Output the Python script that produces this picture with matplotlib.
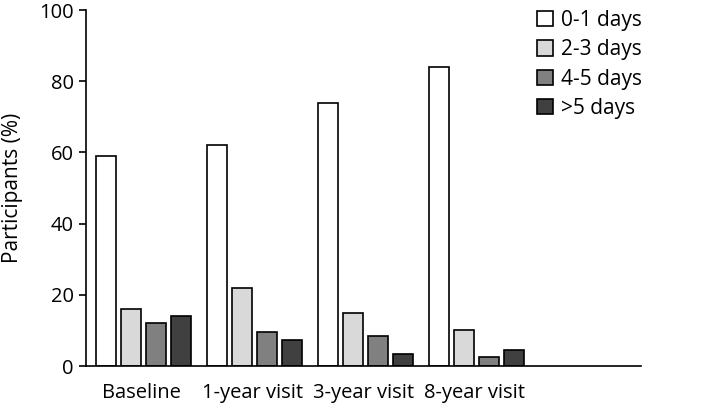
import matplotlib
matplotlib.use("Agg")
import matplotlib.pyplot as plt
import numpy as np

categories = ["Baseline", "1-year visit", "3-year visit", "8-year visit", ""]
series_names = ["0-1 days", "2-3 days", "4-5 days", ">5 days"]
vals_01 = [59, 62, 74, 84]
vals_23 = [16, 22, 15, 10]
vals_45 = [12, 9.5, 8.3, 2.6]
vals_gt5 = [14, 7.4, 3.5, 4.6]
colors = ["#ffffff", "#d9d9d9", "#808080", "#404040"]

plt.rcParams['font.family'] = ['Open Sans', 'DejaVu Sans']

fig = plt.figure(figsize=(7.09, 4.11), dpi=100)
ax = fig.add_axes([86/709, (411-366)/411, (641-86)/709, (366-10)/411])

series = [vals_01, vals_23, vals_45, vals_gt5]
x = np.arange(len(vals_01))
step = 0.225
width = 0.178
for i, (vals, name, c) in enumerate(zip(series, series_names, colors)):
    ax.bar(x + (i - 1.5) * step + 0.02, vals, width=width, color=c,
           edgecolor="black", linewidth=1.2, label=name)

ax.set_xlim(-0.5, len(categories) - 0.5)
ax.set_ylim(0, 100)
ax.set_yticks([0, 20, 40, 60, 80, 100])
ax.set_xticks(np.arange(len(categories)))
ax.set_xticklabels(categories)
ax.tick_params(axis='x', length=0, pad=12, labelsize=14.5)
ax.tick_params(axis='y', length=5, width=1.2, direction='out', labelsize=14.5, pad=4)
for s in ["top", "right"]:
    ax.spines[s].set_visible(False)
ax.spines["left"].set_linewidth(1.2)
ax.spines["bottom"].set_linewidth(1.2)
ax.set_ylabel("Participants (%)", fontsize=15)
ax.yaxis.set_label_coords(-63/555, 0.5)

leg = fig.legend(loc="upper left", bbox_to_anchor=(537/709, (411-10)/411), frameon=False,
                 fontsize=15, handlelength=0.75, handleheight=0.75,
                 handletextpad=0.4, labelspacing=0.4, borderpad=0, borderaxespad=0)

fig.savefig("out.png", dpi=100)
